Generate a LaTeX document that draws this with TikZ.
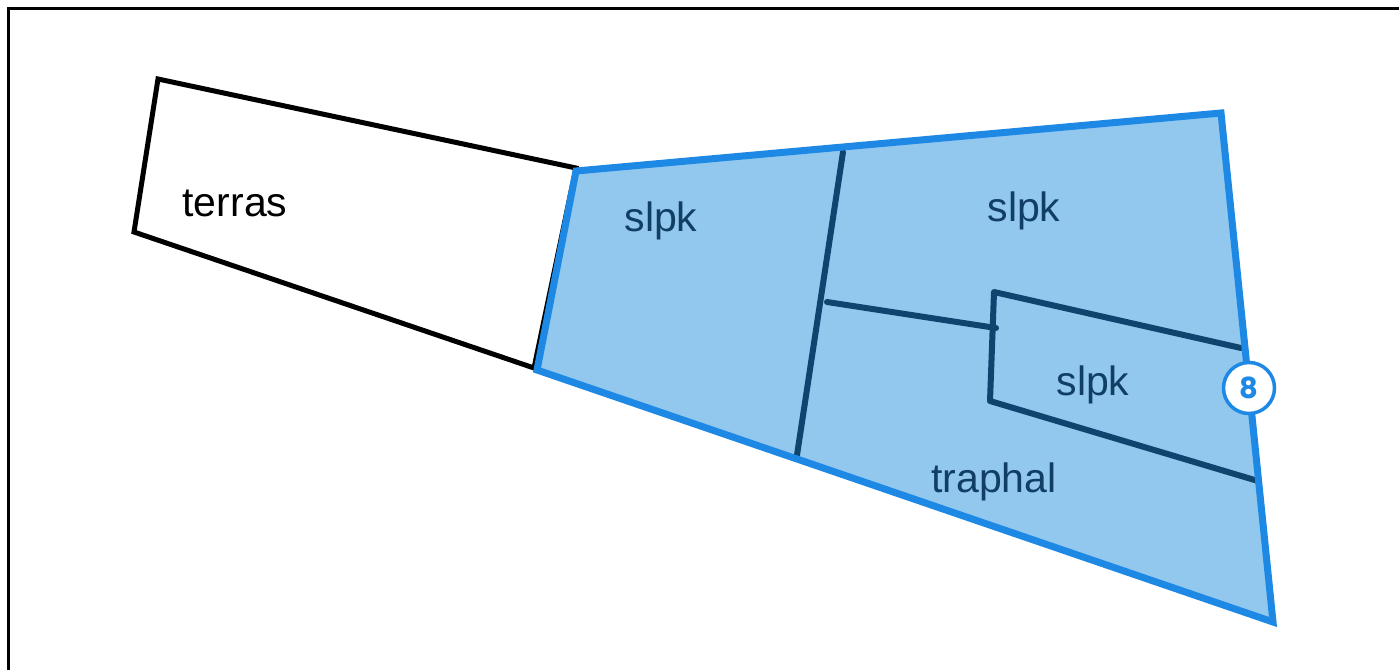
\documentclass[tikz,border=0pt]{standalone}
\usepackage{fontspec}
\setmainfont{Liberation Sans}
\newfontfamily\badgefont{Poppins}
\definecolor{zoneblue}{RGB}{30,137,228}
\definecolor{zonefill}{RGB}{146,199,238}
\definecolor{darkline}{RGB}{14,69,111}
\definecolor{darktext}{RGB}{16,62,100}
\begin{document}
\begin{tikzpicture}[x=1pt,y=-1pt,
  lbl/.style={font=\fontsize{41}{48}\selectfont, inner sep=0pt, anchor=center},
  divider/.style={draw=darkline, line width=6pt, line cap=round, line join=round},
  badge/.style={circle, draw=zoneblue, line width=3.5pt, fill=white, minimum size=51pt, inner sep=0pt,
    text=zoneblue, font=\badgefont\bfseries\fontsize{29}{30}\selectfont}]
\useasboundingbox (0,0) rectangle (1399,669);
\begin{scope}
\clip (0,0) rectangle (1399,669);
\draw[line width=3pt] (8,700) -- (8,9) -- (1420,9);
\end{scope}
% terras parcel
\coordinate (t1) at (158,79);
\coordinate (t2) at (576,168);
\coordinate (t3) at (534,368);
\coordinate (t4) at (134,232);
\draw[line width=5pt, line join=miter] (t1) -- (t2) -- (t3) -- (t4) -- cycle;
% blue zone
\coordinate (b1) at (576,171);
\coordinate (b2) at (1221,113);
\coordinate (b3) at (1273,622);
\coordinate (b4) at (537,370);
\fill[zonefill] (b1) -- (b2) -- (b3) -- (b4) -- cycle;
% dividers
\coordinate (v1) at (843,152);
\coordinate (v2) at (797,455);
\coordinate (h1) at (827,302);
\coordinate (h2) at (996,328);
\coordinate (r1) at (1241,348);
\coordinate (r2) at (994,292);
\coordinate (r3) at (990,401);
\coordinate (r4) at (1258,481);
\draw[divider] (v1) -- (v2);
\draw[divider] (h1) -- (h2);
\draw[divider] (r1) -- (r2) -- (r3) -- (r4);
\draw[draw=zoneblue, line width=7pt, line join=miter] (b1) -- (b2) -- (b3) -- (b4) -- cycle;
% labels
\node[lbl] (terras) at (235,203) {terras};
\node[lbl, text=darktext] (slpkA) at (661,221) {slpk};
\node[lbl, text=darktext] (slpkB) at (1024,211) {slpk};
\node[lbl, text=darktext] (slpkC) at (1093,385) {slpk};
\node[lbl, text=darktext] (traphal) at (994,482) {traphal};
\node[badge] (eight) at (1249,388) {8};
\end{tikzpicture}
\end{document}
